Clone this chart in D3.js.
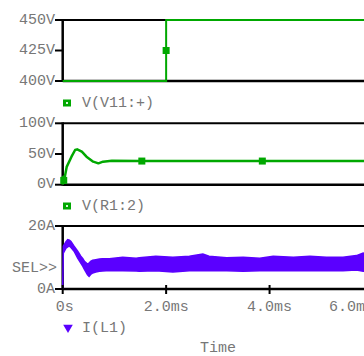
<!DOCTYPE html>
<html><head><meta charset="utf-8">
<script src="https://cdn.jsdelivr.net/npm/d3@7"></script>
<style>
html,body{margin:0;padding:0;background:#fff;}
svg{display:block;}
text{font-family:"Liberation Mono","DejaVu Sans Mono",monospace;font-size:15px;fill:#777;}
</style></head>
<body>
<svg id="c" width="364" height="356"></svg>
<script>
// ---- data ----
const xTicks = [0, 2, 4, 6];
const xTickLabels = ["0s", "2.0ms", "4.0ms", "6.0ms"];

const v11Ticks = [400, 425, 450];
const v11TickLabels = ["400V", "425V", "450V"];
const v11Time = [0, 2.0, 2.0, 6.0];
const v11Value = [400, 400, 450, 450];
const v11MarkerTime = [2.0];
const v11MarkerValue = [425];

const r1Ticks = [0, 50, 100];
const r1TickLabels = ["0V", "50V", "100V"];
const r1Time = [0, 0.012, 0.03, 0.077, 0.17, 0.24, 0.28, 0.37, 0.46, 0.59, 0.69, 0.78, 0.95, 1.5, 3.0, 6.0];
const r1Value = [0, 13, 8, 29, 45.6, 56.5, 57.6, 53.7, 45.6, 37.5, 34.8, 37.5, 39, 38.5, 38.5, 38.5];
const r1MarkerTime = [0.02, 1.53, 3.86];
const r1MarkerValue = [7, 38.5, 38.5];

const l1Ticks = [0, 20];
const l1TickLabels = ["0A", "20A"];
const l1Time = [0, 0.012, 0.064, 0.097, 0.13, 0.16, 0.22, 0.29, 0.35, 0.39, 0.42, 0.48, 0.51, 0.54, 0.58, 0.64, 0.71, 0.77, 0.84, 0.90, 1.16, 1.42, 1.48, 1.80, 2.13, 2.45, 2.71, 2.83, 3.17, 3.49, 3.81, 4.07, 4.46, 4.78, 5.10, 5.42, 5.68, 5.81, 6.0];
const l1High = [0, 13.6, 15.0, 15.7, 15.5, 15.1, 13.6, 12.0, 10.4, 9.6, 8.8, 7.9, 8.2, 8.8, 9.1, 9.3, 9.5, 9.6, 9.6, 9.6, 10.1, 9.8, 9.9, 10.4, 10.1, 10.4, 11.1, 10.4, 9.9, 10.1, 9.8, 10.4, 10.1, 10.4, 10.1, 10.1, 10.6, 11.4, 10.6];
const l1Low = [0, 11.4, 13.0, 13.4, 13.6, 13.2, 12.0, 9.8, 8.2, 7.2, 6.2, 4.5, 4.0, 4.6, 5.1, 5.4, 5.6, 5.7, 5.8, 5.9, 5.8, 5.7, 5.6, 5.8, 5.4, 5.8, 5.8, 5.8, 5.8, 5.6, 5.8, 5.8, 5.8, 5.8, 5.8, 5.8, 6.0, 5.6, 5.8];

const seriesNames = ["V(V11:+)", "V(R1:2)", "I(L1)"];
const xTitle = "Time";

// ---- drawing ----
const GREEN = "#00a800", PURPLE = "#5a00ff";
const svg = d3.select("#c");
const x = d3.scaleLinear().domain([0, 6]).range([62.7, 373]);

function panel(top, bottom, domain, ticks, labels) {
  const y = d3.scaleLinear().domain(domain).range([bottom, top]);
  const g = svg.append("g");
  g.append("line").attr("x1", x(0)).attr("x2", 380).attr("y1", top).attr("y2", top)
    .attr("stroke", "#000").attr("stroke-width", 2);
  g.append("line").attr("x1", x(0)).attr("x2", 380).attr("y1", bottom).attr("y2", bottom)
    .attr("stroke", "#000").attr("stroke-width", 2.5);
  g.append("line").attr("x1", x(0)).attr("x2", x(0)).attr("y1", top - 1).attr("y2", bottom + 1)
    .attr("stroke", "#000").attr("stroke-width", 2.5);
  ticks.forEach((t, i) => {
    g.append("line").attr("x1", 55).attr("x2", x(0)).attr("y1", y(t)).attr("y2", y(t))
      .attr("stroke", "#000").attr("stroke-width", 2);
    g.append("text").attr("x", 55).attr("y", y(t)).attr("text-anchor", "end")
      .attr("dominant-baseline", "central").text(labels[i]);
  });
  return y;
}

function squareMarker(cx, cy, color) {
  svg.append("rect").attr("x", cx - 3.5).attr("y", cy - 3.5).attr("width", 7).attr("height", 7)
    .attr("fill", color);
}

function legendSquare(cx, cy, color, label) {
  svg.append("rect").attr("x", cx - 4).attr("y", cy - 3.5).attr("width", 8).attr("height", 7).attr("fill", color);
  svg.append("rect").attr("x", cx - 1).attr("y", cy - 1).attr("width", 2).attr("height", 2).attr("fill", "#d8f5d8");
  svg.append("text").attr("x", 82).attr("y", cy).attr("dominant-baseline", "central").text(label);
}

// Panel 1
const y1 = panel(20, 81, [400, 450], v11Ticks, v11TickLabels);
const line1 = d3.line().x(d => x(d[0])).y(d => y1(d[1]));
svg.append("path").attr("d", line1(v11Time.map((t, i) => [t, v11Value[i]])))
  .attr("fill", "none").attr("stroke", GREEN).attr("stroke-width", 2);
v11MarkerTime.forEach((t, i) => squareMarker(x(t), y1(v11MarkerValue[i]), GREEN));
legendSquare(67, 103, GREEN, seriesNames[0]);

// Panel 2
const y2 = panel(123.3, 184.7, [0, 100], r1Ticks, r1TickLabels);
const line2 = d3.line().x(d => x(d[0])).y(d => y2(d[1]));
svg.append("path").attr("d", line2(r1Time.map((t, i) => [t, r1Value[i]])))
  .attr("fill", "none").attr("stroke", GREEN).attr("stroke-width", 2.5).attr("stroke-linejoin", "round");
r1MarkerTime.forEach((t, i) => squareMarker(x(t), y2(r1MarkerValue[i]), GREEN));
legendSquare(67, 206, GREEN, seriesNames[1]);

// Panel 3
const y3 = panel(226, 289, [0, 20], l1Ticks, l1TickLabels);
svg.append("text").attr("x", 57).attr("y", 268).attr("text-anchor", "end")
  .attr("dominant-baseline", "central").text("SEL>>");
const band = d3.area().x(d => x(d.t)).y0(d => y3(d.lo)).y1(d => y3(d.hi));
svg.append("path").attr("d", band(l1Time.map((t, i) => ({t, hi: l1High[i], lo: l1Low[i]}))))
  .attr("fill", PURPLE).attr("stroke", PURPLE).attr("stroke-width", 1.5);

// x axis ticks & labels
xTicks.forEach((t, i) => {
  svg.append("line").attr("x1", x(t)).attr("x2", x(t)).attr("y1", 285).attr("y2", 294)
    .attr("stroke", "#000").attr("stroke-width", 2);
  const last = i === xTicks.length - 1;
  svg.append("text").attr("x", i === 0 ? x(t) + 2 : (last ? x(t) + 1 : x(t)))
    .attr("y", 307.5).attr("text-anchor", last ? "end" : "middle")
    .attr("dominant-baseline", "central").text(xTickLabels[i]);
});

// legend 3 (triangle)
svg.append("path").attr("d", d3.symbol().type(d3.symbolTriangle).size(40)())
  .attr("transform", "translate(68,327.5) rotate(180)").attr("fill", PURPLE);
svg.append("text").attr("x", 82).attr("y", 328).attr("dominant-baseline", "central").text(seriesNames[2]);

svg.append("text").attr("x", 218).attr("y", 348).attr("text-anchor", "middle")
  .attr("dominant-baseline", "central").text(xTitle);
</script>
</body></html>
